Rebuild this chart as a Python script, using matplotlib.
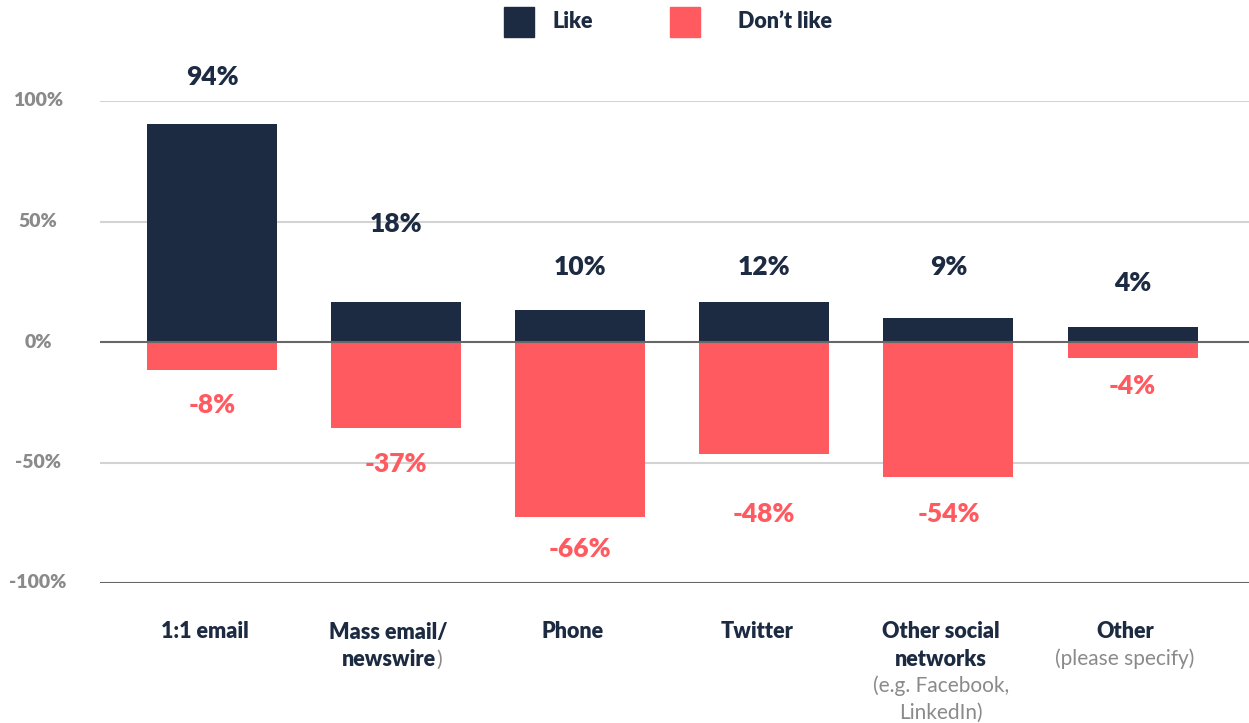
import matplotlib
matplotlib.use("Agg")
import matplotlib.pyplot as plt
from matplotlib.patches import Rectangle
import numpy as np

plt.rcParams['font.family'] = ['Lato', 'DejaVu Sans']

categories = ["1:1 email", "Mass email/\nnewswire", "Phone", "Twitter",
              "Other social\nnetworks", "Other"]
sub_notes = ["", "", "", "", "(e.g. Facebook,\nLinkedIn)", "(please specify)"]
like_bar = [90.5, 16.6, 13.3, 16.6, 10.0, 6.2]
dislike_bar = [-11.6, -35.7, -72.6, -46.5, -56.0, -6.6]
like_label = ["94%", "18%", "10%", "12%", "9%", "4%"]
dislike_label = ["-8%", "-37%", "-66%", "-48%", "-54%", "-4%"]
like_label_y = [110, 49, 31, 31, 31, 24.5]
dislike_label_y = [-26, -50.6, -86, -71.4, -71.4, -18.3]
yticks = [-100, -50, 0, 50, 100]

navy = "#1c2b42"
red = "#ff5a5f"
gray = "#8a8a8a"

W, H = 1249, 723
fig = plt.figure(figsize=(W / 100, H / 100), dpi=100)
ax = fig.add_axes([100 / W, (H - 583) / H, 1149 / W, 482 / H])

x = np.arange(len(categories))
step = 184.1
ax.set_xlim((100 - 212) / step, (1249 - 212) / step)
ax.set_ylim(-100, 100)

for yv in yticks:
    if yv in (0, -100):
        ax.axhline(yv, color="#666666", lw=1.5, zorder=3)
    else:
        ax.axhline(yv, color="#d3d3d3", lw=1.5, zorder=0)

ax.bar(x, like_bar, width=130 / step, color=navy, zorder=2)
ax.bar(x, dislike_bar, width=130 / step, color=red, zorder=2)

for i in range(len(x)):
    ax.text(x[i], like_label_y[i], like_label[i], ha="center", va="center",
            fontsize=19, fontweight="heavy", color=navy)
    ax.text(x[i], dislike_label_y[i], dislike_label[i], ha="center", va="center",
            fontsize=19, fontweight="heavy", color=red)

# category labels below the axis
px = 200 / 482
for i, cat in enumerate(categories):
    lines = cat.split("\n")
    y0 = -100 - 49 * px
    for j, line in enumerate(lines):
        t = ax.text(x[i] - 0.04, y0 - j * 27 * px, line, ha="center", va="center",
                    fontsize=15.5, fontweight="heavy", color=navy, clip_on=False)
        if line == "newswire":
            ax.annotate(")", xy=(1, 0), xycoords=t, va="bottom", ha="left",
                        fontsize=15.5, color=gray)
    if sub_notes[i]:
        for k, note in enumerate(sub_notes[i].split("\n")):
            ax.text(x[i] - 0.04, y0 - (len(lines) + k) * 27 * px, note,
                    ha="center", va="center", fontsize=15, color=gray, clip_on=False)

# y tick labels, centred at x=38px
for yv in yticks:
    fig.text(38 / W, (H - (342 - yv * 2.41)) / H, f"{yv}%", ha="center", va="center",
             fontsize=14, fontweight="heavy", color=gray)

for a in ["top", "right", "left", "bottom"]:
    ax.spines[a].set_visible(False)
ax.set_xticks([])
ax.set_yticks([])

# legend
fig.patches.append(Rectangle((504 / W, (H - 37) / H), 30 / W, 30 / H,
                             transform=fig.transFigure, color=navy))
fig.patches.append(Rectangle((670 / W, (H - 37) / H), 30 / W, 30 / H,
                             transform=fig.transFigure, color=red))
fig.text(552 / W, (H - 22) / H, "Like", ha="left", va="center",
         fontsize=15.5, fontweight="heavy", color=navy)
fig.text(738 / W, (H - 22) / H, "Don’t like", ha="left", va="center",
         fontsize=15.5, fontweight="heavy", color=navy)

fig.savefig("out.png", dpi=100)
